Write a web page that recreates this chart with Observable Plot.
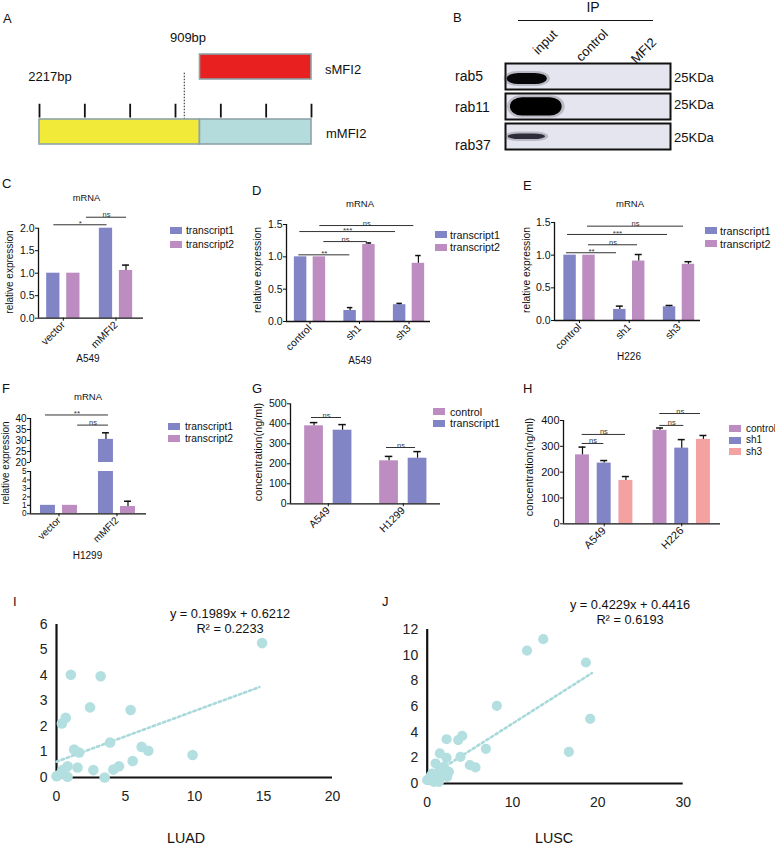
<!DOCTYPE html>
<html><head><meta charset="utf-8">
<script src="https://cdn.jsdelivr.net/npm/d3@7"></script>
<script src="https://cdn.jsdelivr.net/npm/@observablehq/plot@0.6"></script>
<style>
body{margin:0;background:#fff}
#fig{position:relative;width:775px;height:848px;overflow:hidden;background:#fff;font-family:"Liberation Sans",Arial,Helvetica,sans-serif;color:#111}
.t{position:absolute;white-space:nowrap;line-height:1}
#fig svg{position:absolute;overflow:visible}
</style></head><body><div id="fig"></div>
<script>
// ---------------- DATA ----------------
// Panel A: gene diagram (bp)
const geneLength = 2217;
const shortLength = 909;
const geneRows = ["sMFI2", "mMFI2"];
const segRow = ["mMFI2", "mMFI2", "sMFI2"];
const segStart = [0, 1308, 1308];
const segEnd = [1308, 2217, 2217];
const segColor = ["#f2ea38", "#b5dcdc", "#e8201f"];
const geneTicks = [0, 369.5, 739, 1108.5, 1478, 1847.5, 2217];
const splitMarker = [1180];

// Panel B: blot
const blotRows = ["rab5", "rab11", "rab37"];
const blotLanes = ["input", "control", "MFI2"];
const bandRow = ["rab5", "rab11", "rab37"];
const bandX1 = [0.03, 0.09, 0.05];
const bandX2 = [0.76, 1.03, 0.73];
const bandY1 = [0.38, 0.16, 0.40];
const bandY2 = [0.81, 0.87, 0.62];
const bandShade = ["#060608", "#000000", "#2c2c3a"];

// Panel C
const cGroups = ["vector", "mMFI2"];
const cT1 = [1.0, 2.0], cT1Err = [0, 0];
const cT2 = [1.0, 1.06], cT2Err = [0, 0.12];
const cSigLabel = ["*", "ns"], cSigFrom = [-0.18, 0.44], cSigTo = [0.83, 1.2], cSigY = [2.076, 2.244];

// Panel D
const dGroups = ["control", "sh1", "sh3"];
const dT1 = [1.0, 0.17, 0.26], dT1Err = [0, 0.045, 0.02];
const dT2 = [1.0, 1.19, 0.90], dT2Err = [0, 0.025, 0.12];
const dSigLabel = ["**", "ns", "***", "ns"], dSigFrom = [-0.226, 0.279, -0.206, 0.198], dSigTo = [0.804, 1.156, 1.727, 2.097], dSigY = [1.031, 1.236, 1.391, 1.484];

// Panel E
const eGroups = ["control", "sh1", "sh3"];
const eT1 = [1.0, 0.17, 0.21], eT1Err = [0, 0.05, 0.02];
const eT2 = [1.0, 0.91, 0.86], eT2Err = [0, 0.10, 0.04];
const eSigLabel = ["**", "ns", "***", "ns"], eSigFrom = [-0.261, 0.181, -0.241, 0.161], eSigTo = [0.744, 1.166, 1.769, 2.09], eSigY = [1.037, 1.159, 1.317, 1.444];

// Panel F
const fGroups = ["vector", "mMFI2"];
const fT1 = [1.0, 30.5], fT1Err = [0, 3.0];
const fT2 = [1.0, 0.86], fT2Err = [0, 0.63];
const fSigLabel = ["**", "ns"], fSigFrom = [-0.233, 0.322], fSigTo = [0.853, 0.853], fSigY = [41.6, 37.0];

// Panel G
const gGroups = ["A549", "H1299"];
const gControl = [390, 215], gControlErr = [16, 22];
const gTranscript1 = [368, 228], gTranscript1Err = [28, 33];
const gSigLabel = ["ns", "ns"], gSigFrom = [-0.224, 0.776], gSigTo = [0.176, 1.163], gSigY = [431.5, 281.5];

// Panel H
const hGroups = ["A549", "H226"];
const hControl = [267, 362], hControlErr = [30, 9];
const hSh1 = [235, 293], hSh1Err = [10, 33];
const hSh3 = [168, 327], hSh3Err = [15, 15];
const hSigLabel = ["ns", "ns", "ns", "ns"], hSigFrom = [-0.284, -0.284, 0.717, 0.717], hSigTo = [-0.005, 0.275, 1.027, 1.243], hSigY = [311, 346, 381, 427];

// Panel I (LUAD)
const luadX = [14.9, 1.04, 3.2, 2.43, 5.37, 0.67, 0.39, 3.88, 1.28, 1.64, 6.17, 6.65, 9.86, 5.52, 4.53, 4.12, 2.67, 3.49, 1.52, 0.8, 0.43, 0.12, 0.8, 0.0, 0.55];
const luadY = [5.27, 4.03, 3.97, 2.75, 2.65, 2.34, 2.12, 1.37, 1.1, 0.98, 1.2, 1.05, 0.88, 0.65, 0.44, 0.31, 0.29, 0.0, 0.39, 0.44, 0.29, 0.09, 0.03, 0.05, 0.16];
const luadFit = {slope: 0.1989, intercept: 0.6212, r2: "0.2233", xEnd: 14.7};

// Panel J (LUSC)
const luscX = [13.6, 11.7, 18.6, 8.16, 19.1, 16.6, 6.88, 4.1, 3.63, 2.27, 1.48, 2.27, 3.9, 5.0, 5.66, 0.98, 1.95, 2.54, 1.37, 0.59, 1.76, 2.34, 0.2, 0.78, 1.37, 0.0, 1.17, 0.4];
const luscY = [11.25, 10.36, 9.43, 6.05, 5.04, 2.47, 2.7, 3.71, 3.38, 3.45, 2.34, 2.0, 2.08, 1.43, 1.25, 1.56, 1.3, 0.91, 0.91, 0.78, 0.57, 0.52, 0.31, 0.13, 0.13, 0.26, 0.47, 0.57];
const luscFit = {slope: 0.4229, intercept: 0.4416, r2: "0.6193", xEnd: 19.3};

// colours
const C_T1 = "#8185c6", C_T2 = "#bd8dc2", C_SH3 = "#f3a1a1", C_DOT = "#b4dfe0";
const FONT = '"Liberation Sans", Arial, Helvetica, sans-serif';

// ---------------- HELPERS ----------------
const fig = document.getElementById("fig");
function addText(str, x, y, {size = 11, anchor = "start", rotate = 0, color = "#111"} = {}) {
  const d = document.createElement("div");
  d.className = "t";
  d.textContent = str;
  d.style.left = x + "px";
  d.style.top = y + "px";
  d.style.fontSize = size + "px";
  d.style.color = color;
  const tx = anchor === "middle" ? "-50%" : anchor === "end" ? "-100%" : "0";
  d.style.transformOrigin = anchor === "middle" ? "50% 50%" : anchor === "end" ? "100% 50%" : "0 50%";
  d.style.transform = `translate(${tx},-50%) rotate(${rotate}deg)`;
  fig.appendChild(d);
}
function addBox(x, y, w, h, color) {
  const d = document.createElement("div");
  d.style.cssText = `position:absolute;left:${x}px;top:${y}px;width:${w}px;height:${h}px;background:${color}`;
  fig.appendChild(d);
}
function place(svg, left, top) {
  svg.style.left = left + "px";
  svg.style.top = top + "px";
  fig.appendChild(svg);
}
function sigRows(labels, from, to, ys) {
  return labels.map((label, i) => ({label, from: from[i], to: to[i], y: ys[i]}));
}
function legend(x, tops, textX, items, size) {
  items.forEach((it, i) => {
    addBox(x, tops[i], 12, 7, it.color);
    addText(it.label, textX, tops[i] + 3.5, {size});
  });
}

function barPanel(o) {
  const marks = [];
  const clip = o.clip ? {clip: true} : {};
  o.series.forEach(s => {
    const rows = s.values.map((v, i) => ({x: i + s.offset, v, e: s.errs[i]}));
    marks.push(Plot.rect(rows, {x1: d => d.x - o.halfW, x2: d => d.x + o.halfW, y1: 0, y2: "v", fill: s.color, ...clip}));
    const er = rows.filter(d => d.e > 0);
    marks.push(Plot.ruleX(er, {x: "x", y1: "v", y2: d => d.v + d.e, stroke: "#111", strokeWidth: 1.2, ...clip}));
    marks.push(Plot.ruleY(er, {y: d => d.v + d.e, x1: d => d.x - o.capHalf, x2: d => d.x + o.capHalf, stroke: "#111", strokeWidth: 1.5, ...clip}));
  });
  marks.push(Plot.ruleX([o.xDomain[0]], {stroke: "#111", strokeWidth: 1.3}));
  if (o.showX) marks.push(Plot.ruleY([o.yDomain[0]], {stroke: "#111", strokeWidth: 1.3}));
  if (o.sig) {
    marks.push(Plot.ruleY(o.sig, {y: "y", x1: "from", x2: "to", stroke: "#333", strokeWidth: 1}));
    marks.push(Plot.text(o.sig.filter(d => d.label === "ns"), {x: d => (d.from + d.to) / 2, y: "y", text: "label", lineAnchor: "bottom", dy: 0, fontSize: 7.5, fill: "#333"}));
    marks.push(Plot.text(o.sig.filter(d => d.label !== "ns"), {x: d => (d.from + d.to) / 2, y: "y", text: "label", lineAnchor: "bottom", dy: 1.5, fontSize: 8, fill: "#333"}));
  }
  const svg = Plot.plot({
    width: o.width, height: o.height,
    marginLeft: o.ml, marginRight: o.mr, marginTop: o.mt, marginBottom: o.mb,
    style: {fontSize: o.fontSize + "px", fontFamily: FONT, color: "#111", background: "none", overflow: "visible"},
    x: {type: "linear", domain: o.xDomain, ticks: o.groups.map((g, i) => i), tickFormat: i => o.groups[i],
        tickRotate: -45, tickSize: 3, tickPadding: 2, label: null, axis: o.showX ? "bottom" : null},
    y: {type: "linear", domain: o.yDomain, ticks: o.yTicks, tickFormat: o.yFormat, tickSize: 3, tickPadding: 1, label: null},
    marks
  });
  if (o.yFontSize) {
    svg.querySelectorAll('[aria-label^="y-axis"]').forEach(g => {
      g.setAttribute("font-size", o.yFontSize);
      g.querySelectorAll("text").forEach(t => t.setAttribute("font-size", o.yFontSize));
    });
  }
  place(svg, o.left, o.top);
}

function scatterPanel(o) {
  const pts = o.xs.map((x, i) => ({x, y: o.ys[i]}));
  const fit = [0, o.fit.xEnd].map(x => ({x, y: o.fit.slope * x + o.fit.intercept}));
  const svg = Plot.plot({
    width: o.width, height: o.height,
    marginLeft: o.ml, marginRight: o.mr, marginTop: o.mt, marginBottom: o.mb,
    style: {fontSize: "14px", fontFamily: FONT, color: "#222", background: "none", overflow: "visible"},
    x: {domain: o.xDomain, ticks: o.xTicks, tickFormat: "d", tickSize: 0, tickPadding: 14, label: null},
    y: {domain: o.yDomain, ticks: o.yTicks, tickFormat: "d", tickSize: 0, tickPadding: 9, label: null},
    marks: [
      Plot.ruleX([0], {stroke: "#111", strokeWidth: 2.2}),
      Plot.ruleY([0], {stroke: "#111", strokeWidth: 2.2}),
      Plot.line(fit, {x: "x", y: "y", stroke: "#a9d9db", strokeWidth: 2.6, strokeDasharray: "2.4,3"}),
      Plot.dot(pts, {x: "x", y: "y", r: o.r, fill: C_DOT, stroke: "none"})
    ]
  });
  place(svg, o.left, o.top);
}

// ---------------- PANEL A ----------------
{
  const segs = segRow.map((r, i) => ({row: r, start: segStart[i], end: segEnd[i], color: segColor[i]}));
  const svg = Plot.plot({
    width: 390, height: 170, marginLeft: 39, marginRight: 79, marginTop: 33.35, marginBottom: 4.85,
    style: {background: "none", overflow: "visible"},
    x: {type: "linear", domain: [0, geneLength], axis: null},
    y: {domain: geneRows, padding: 0, axis: null},
    marks: [
      ...segs.map(d => Plot.barX([d], {x1: "start", x2: "end", y: "row", fill: d.color, stroke: "#8ca3a9", strokeWidth: 1.6, insetTop: 20, insetBottom: 20})),
      Plot.tickX(geneTicks, {x: d => d, y: () => "mMFI2", stroke: "#111", strokeWidth: 1.8, insetTop: 4.75, insetBottom: 46.5}),
      Plot.ruleX(splitMarker, {stroke: "#222", strokeWidth: 1, strokeDasharray: "1.5,1.5", insetTop: 39.35, insetBottom: 46.85})
    ]
  });
  place(svg, 0, 0);
  addText("A", 3, 17.5, {size: 13});
  addText(shortLength + "bp", 188, 37, {size: 13, anchor: "middle"});
  addText(geneLength + "bp", 50, 76, {size: 13, anchor: "middle"});
  addText("sMFI2", 325, 69, {size: 13});
  addText("mMFI2", 326, 133, {size: 13});
}

// ---------------- PANEL B ----------------
{
  const bands = bandRow.map((r, i) => ({row: r, x1: bandX1[i], x2: bandX2[i], y1: bandY1[i], y2: bandY2[i], shade: bandShade[i]}));
  const svg = Plot.plot({
    width: 385, height: 160, marginLeft: 115, marginRight: 105, marginTop: 61.7, marginBottom: 10.7,
    style: {background: "none", overflow: "visible"},
    facet: {data: bands, y: "row", label: null},
    fy: {domain: blotRows, paddingInner: 0.15, paddingOuter: 0, axis: null, label: null},
    x: {type: "linear", domain: [0, blotLanes.length], axis: null},
    y: {type: "linear", domain: [0, 1], reverse: true, axis: null},
    marks: [
      Plot.frame({fill: "#e5e5ef", stroke: "#111", strokeWidth: 2}),
      Plot.rect(bands, {x1: "x1", x2: "x2", y1: "y1", y2: "y2", fill: "#3a3a48", fillOpacity: 0.25, rx: 14, insetLeft: -3, insetRight: -3, insetTop: -2, insetBottom: -2}),
      Plot.rect(bands, {x1: "x1", x2: "x2", y1: "y1", y2: "y2", fill: d => d.shade, rx: 12})
    ]
  });
  place(svg, 390, 0);
  addText("B", 453, 16.5, {size: 13});
  addText("IP", 593, 7, {size: 14, anchor: "middle"});
  addBox(518, 20, 135, 1.3, "#111");
  addText(blotLanes[0], 535, 52, {size: 13, rotate: -45});
  addText(blotLanes[1], 578, 59, {size: 13, rotate: -45});
  addText(blotLanes[2], 633, 61, {size: 13, rotate: -45});
  addText("rab5", 455, 76, {size: 14});
  addText("rab11", 455, 107, {size: 14});
  addText("rab37", 455, 145, {size: 14});
  addText("25KDa", 674, 77, {size: 13});
  addText("25KDa", 674, 104, {size: 13});
  addText("25KDa", 674, 137, {size: 13});
}

// ---------------- PANEL C ----------------
barPanel({
  left: 0, top: 200, width: 160, height: 170, ml: 38, mr: 17, mt: 27.7, mb: 52.3,
  xDomain: [-0.471, 1.522], groups: cGroups, halfW: 0.126, capHalf: 0.066,
  yDomain: [0, 2], yTicks: [0, 0.5, 1, 1.5, 2], yFormat: ".1f", fontSize: 10.5, showX: true,
  series: [
    {values: cT1, errs: cT1Err, color: C_T1, offset: -0.19},
    {values: cT2, errs: cT2Err, color: C_T2, offset: 0.19}
  ],
  sig: sigRows(cSigLabel, cSigFrom, cSigTo, cSigY)
});
addText("C", 2, 182.5, {size: 13});
addText("mRNA", 86.5, 199, {size: 9.3, anchor: "middle"});
addText("relative expression", 10, 272, {size: 10, anchor: "middle", rotate: -90});
addText("A549", 88, 358.5, {size: 10, anchor: "middle"});
legend(170, [227, 241], 186, [{label: "transcript1", color: C_T1}, {label: "transcript2", color: C_T2}], 10.3);

// ---------------- PANEL D ----------------
barPanel({
  left: 250, top: 200, width: 200, height: 170, ml: 36, mr: 20, mt: 24, mb: 49,
  xDomain: [-0.475, 2.434], groups: dGroups, halfW: 0.126, capHalf: 0.055,
  yDomain: [0, 1.5], yTicks: [0, 0.5, 1, 1.5], yFormat: ".1f", fontSize: 10.5, showX: true,
  series: [
    {values: dT1, errs: dT1Err, color: C_T1, offset: -0.19},
    {values: dT2, errs: dT2Err, color: C_T2, offset: 0.19}
  ],
  sig: sigRows(dSigLabel, dSigFrom, dSigTo, dSigY)
});
addText("D", 252, 190, {size: 13});
addText("mRNA", 360, 203.5, {size: 9.5, anchor: "middle"});
addText("relative expression", 258, 270, {size: 10.3, anchor: "middle", rotate: -90});
addText("A549", 360, 361, {size: 10, anchor: "middle"});
legend(435, [231, 243.5], 450, [{label: "transcript1", color: C_T1}, {label: "transcript2", color: C_T2}], 10.7);

// ---------------- PANEL E ----------------
barPanel({
  left: 520, top: 200, width: 200, height: 170, ml: 34, mr: 20, mt: 22, mb: 50,
  xDomain: [-0.503, 2.432], groups: eGroups, halfW: 0.125, capHalf: 0.07,
  yDomain: [0, 1.5], yTicks: [0, 0.5, 1, 1.5], yFormat: ".1f", fontSize: 10.5, showX: true,
  series: [
    {values: eT1, errs: eT1Err, color: C_T1, offset: -0.19},
    {values: eT2, errs: eT2Err, color: C_T2, offset: 0.19}
  ],
  sig: sigRows(eSigLabel, eSigFrom, eSigTo, eSigY)
});
addText("E", 523, 185, {size: 13});
addText("mRNA", 630, 203.5, {size: 9.5, anchor: "middle"});
addText("relative expression", 527, 270, {size: 10.3, anchor: "middle", rotate: -90});
addText("H226", 629, 357, {size: 10, anchor: "middle"});
legend(705, [227, 240], 720, [{label: "transcript1", color: C_T1}, {label: "transcript2", color: C_T2}], 10.8);

// ---------------- PANEL F (broken axis) ----------------
const fSeries = [
  {values: fT1, errs: fT1Err, color: C_T1, offset: -0.19},
  {values: fT2, errs: fT2Err, color: C_T2, offset: 0.19}
];
barPanel({
  left: 0, top: 400, width: 160, height: 63, ml: 30, mr: 14, mt: 18, mb: 1,
  xDomain: [-0.491, 1.509], groups: fGroups, halfW: 0.129, capHalf: 0.06,
  yDomain: [20, 40], yTicks: [20, 25, 30, 35, 40], yFormat: "d", fontSize: 10, showX: false, clip: true,
  series: fSeries,
  sig: sigRows(fSigLabel, fSigFrom, fSigTo, fSigY)
});
barPanel({
  left: 0, top: 466, width: 160, height: 100, ml: 30, mr: 14, mt: 5, mb: 52.7,
  xDomain: [-0.491, 1.509], groups: fGroups, halfW: 0.129, capHalf: 0.06,
  yDomain: [0, 5], yTicks: [0, 1, 2, 3, 4, 5], yFormat: "d", fontSize: 10, yFontSize: 8.3, showX: true, clip: true,
  series: fSeries
});
addText("F", 2, 387.5, {size: 13});
addText("mRNA", 88, 397, {size: 9.5, anchor: "middle"});
addText("relative expression", 6, 463, {size: 10, anchor: "middle", rotate: -90});
addText("H1299", 87.5, 555.5, {size: 10, anchor: "middle"});
legend(168, [423, 435], 185, [{label: "transcript1", color: C_T1}, {label: "transcript2", color: C_T2}], 10.3);

// ---------------- PANEL G ----------------
barPanel({
  left: 250, top: 390, width: 200, height: 160, ml: 40, mr: 10, mt: 13.3, mb: 46.7,
  xDomain: [-0.504, 1.496], groups: gGroups, halfW: 0.125, capHalf: 0.05,
  yDomain: [0, 500], yTicks: [0, 100, 200, 300, 400, 500], yFormat: "d", fontSize: 10.5, showX: true,
  series: [
    {values: gControl, errs: gControlErr, color: C_T2, offset: -0.19},
    {values: gTranscript1, errs: gTranscript1Err, color: C_T1, offset: 0.19}
  ],
  sig: sigRows(gSigLabel, gSigFrom, gSigTo, gSigY)
});
addText("G", 252, 387.5, {size: 13});
addText("concentration(ng/ml)", 258, 452, {size: 10.8, anchor: "middle", rotate: -90});
legend(433, [408, 419.5], 450, [{label: "control", color: C_T2}, {label: "transcript1", color: C_T1}], 10.7);

// ---------------- PANEL H ----------------
barPanel({
  left: 520, top: 400, width: 210, height: 160, ml: 43, mr: 10, mt: 20, mb: 36.7,
  xDomain: [-0.525, 1.5], groups: hGroups, halfW: 0.09, capHalf: 0.045,
  yDomain: [0, 400], yTicks: [0, 100, 200, 300, 400], yFormat: "d", fontSize: 11, showX: true,
  series: [
    {values: hControl, errs: hControlErr, color: C_T2, offset: -0.28},
    {values: hSh1, errs: hSh1Err, color: C_T1, offset: 0},
    {values: hSh3, errs: hSh3Err, color: C_SH3, offset: 0.28}
  ],
  sig: sigRows(hSigLabel, hSigFrom, hSigTo, hSigY)
});
addText("H", 523, 387.5, {size: 13});
addText("concentration(ng/ml)", 529, 467, {size: 10.8, anchor: "middle", rotate: -90});
legend(729, [425, 436.5, 448], 746, [{label: "control", color: C_T2}, {label: "sh1", color: C_T1}, {label: "sh3", color: C_SH3}], 10);

// ---------------- PANEL I ----------------
scatterPanel({
  left: 0, top: 600, width: 390, height: 248, ml: 56, mr: 58, mt: 24, mb: 71,
  xDomain: [0, 20], yDomain: [0, 6], xTicks: [0, 5, 10, 15, 20], yTicks: [0, 1, 2, 3, 4, 5, 6],
  xs: luadX, ys: luadY, fit: luadFit, r: 5.3
});
addText("I", 13, 600.5, {size: 13});
addText(`y = ${luadFit.slope}x + ${luadFit.intercept}`, 230, 614, {size: 12.8, anchor: "middle"});
addText(`R² = ${luadFit.r2}`, 230, 628.5, {size: 12.8, anchor: "middle"});
addText("LUAD", 186, 838, {size: 14.3, anchor: "middle"});

// ---------------- PANEL J ----------------
scatterPanel({
  left: 390, top: 600, width: 385, height: 248, ml: 36.7, mr: 92.3, mt: 29, mb: 65,
  xDomain: [0, 30], yDomain: [0, 12], xTicks: [0, 10, 20, 30], yTicks: [0, 2, 4, 6, 8, 10, 12],
  xs: luscX, ys: luscY, fit: luscFit, r: 5.1
});
addText("J", 382, 601, {size: 13});
addText(`y = ${luscFit.slope}x + ${luscFit.intercept}`, 630, 605, {size: 12.8, anchor: "middle"});
addText(`R² = ${luscFit.r2}`, 630, 620, {size: 12.8, anchor: "middle"});
addText("LUSC", 554, 838, {size: 14.3, anchor: "middle"});
</script></body></html>
